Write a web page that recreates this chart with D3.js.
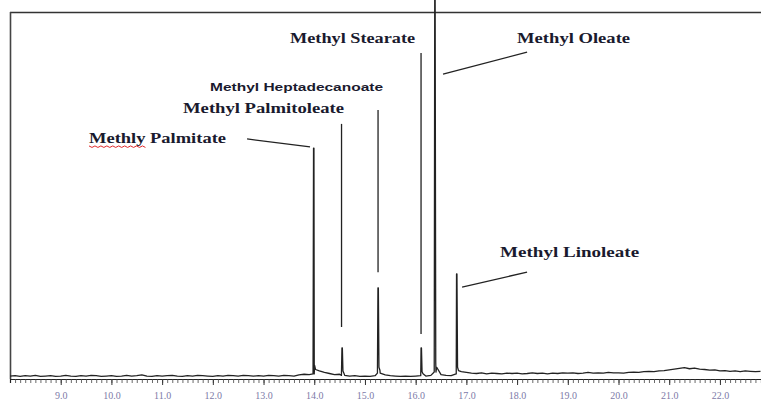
<!DOCTYPE html>
<html>
<head>
<meta charset="utf-8">
<script src="https://cdn.jsdelivr.net/npm/d3@7"></script>
<style>
  html, body { margin: 0; padding: 0; background: #fff; }
  svg { display: block; }
</style>
</head>
<body>
<svg id="chart" width="761" height="403"></svg>
<script>
// ---------- DATA ----------
const xTickValues = [9, 10, 11, 12, 13, 14, 15, 16, 17, 18, 19, 20, 21, 22];
const xTickLabels = ["9.0","10.0","11.0","12.0","13.0","14.0","15.0","16.0","17.0","18.0","19.0","20.0","21.0","22.0"];

// baseline signal, one reading every 0.1 min from 8.0 min
const baselineStart = 8.0;
const baselineStep = 0.1;
const baselineValues = [
  0.8,0.9,0.7,0.9,0.8,1.0,0.7,0.8,0.9,0.7,
  0.8,1.0,0.8,0.7,0.9,0.8,1.0,0.9,0.7,0.8,
  0.9,0.7,0.8,1.0,0.8,0.9,1.1,0.8,0.7,0.9,
  0.8,0.9,1.0,0.8,0.7,0.9,0.8,1.0,0.9,0.8,
  0.7,0.9,0.8,1.0,0.9,0.8,1.0,0.9,0.8,0.9,
  0.8,1.0,0.9,0.8,1.0,0.9,0.8,1.1,1.3,1.2,
  1.4,2.2,1.8,1.5,1.2,1.3,1.0,0.8,0.9,0.7,
  0.8,0.7,0.9,1.6,1.1,0.9,0.8,0.7,0.8,0.7,
  0.8,0.9,0.8,1.0,1.9,1.2,1.0,0.9,1.4,2.0,
  1.8,1.6,1.5,1.7,1.4,1.6,1.5,1.4,1.6,1.5,
  1.6,1.4,1.5,1.7,1.5,1.6,1.4,1.6,1.5,1.7,
  1.6,1.7,1.5,1.6,1.8,1.6,1.7,1.6,1.8,1.7,
  1.7,1.6,1.8,1.9,1.8,2.0,2.1,2.0,2.2,2.3,
  2.5,2.7,2.9,3.1,2.8,3.0,2.7,2.6,2.4,2.5,
  2.2,2.3,2.1,2.2,2.0,2.2,2.1,2.0,2.1
];

// peaks
const peakNames   = ["Methly Palmitate","Methyl Palmitoleate","Methyl Heptadecanoate","Methyl Stearate","Methyl Oleate","Methyl Linoleate"];
const peakTimes   = [13.99, 14.55, 15.26, 16.11, 16.38, 16.81];
const peakHeights = [63.1, 8.5, 24.9, 8.5, 104, 28.7];
const peakTails   = [2.4, 1.2, 1.6, 1.1, 2.6, 1.8];

// ---------- LAYOUT (annotation placement in data units) ----------
const labelLayout = [
  { t: 9.558,  v: 64.5, len: 137, font: "Liberation Serif", size: 14, weight: "bold",
    leader: [[12.675, 65.6], [13.917, 63.4]], squiggle: 6 },
  { t: 11.412, v: 72.7, len: 161, font: "Liberation Serif", size: 14, weight: "bold",
    leader: [[14.538, 69.7], [14.538, 14.2]] },
  { t: 11.945, v: 78.7, len: 173, font: "Liberation Sans", size: 11, weight: "bold",
    leader: [[15.258, 73.5], [15.258, 29.2]] },
  { t: 13.523, v: 91.8, len: 125, font: "Liberation Serif", size: 14, weight: "bold",
    leader: [[16.106, 89.1], [16.106, 12.3]] },
  { t: 18.0,   v: 91.8, len: 113, font: "Liberation Serif", size: 14, weight: "bold",
    leader: [[18.197, 89.3], [16.54, 83.3]] },
  { t: 17.665, v: 33.3, len: 139, font: "Liberation Serif", size: 14, weight: "bold",
    leader: [[18.197, 29.2], [16.915, 25.1]] }
];

// ---------- CHART ----------
const svg = d3.select("#chart");
const x = d3.scaleLinear().domain([8, 22.81]).range([10, 761]);
const y = d3.scaleLinear().domain([0, 100]).range([379, 13]);

// build trace: baseline + spikes
const pts = baselineValues.map((v, i) => ({ t: baselineStart + i * baselineStep, v }));
function baseAt(t) {
  const i = Math.max(0, Math.min(baselineValues.length - 1, Math.round((t - baselineStart) / baselineStep)));
  return baselineValues[i];
}
peakTimes.forEach((t, i) => {
  const b = baseAt(t);
  pts.push({ t: t - 0.014, v: b });
  pts.push({ t: t - 0.004, v: peakHeights[i] });
  pts.push({ t: t + 0.004, v: peakHeights[i] });
  pts.push({ t: t + 0.016, v: b + peakTails[i] });
  pts.push({ t: t + 0.035, v: b + peakTails[i] * 0.5 });
});
pts.sort((a, b) => a.t - b.t);

// frame (top + left)
svg.append("line").attr("x1", x(8)).attr("x2", 761).attr("y1", 12.5).attr("y2", 12.5)
  .attr("stroke", "#333").attr("stroke-width", 1.6);
svg.append("line").attr("x1", x(8) + 0.5).attr("x2", x(8) + 0.5).attr("y1", 12).attr("y2", y(0))
  .attr("stroke", "#444").attr("stroke-width", 1.6);

// x axis: minor ticks
const minorTicks = d3.range(81, 228).map(k => k / 10);
const gMinor = svg.append("g").attr("transform", `translate(0,${y(0)})`)
  .call(d3.axisBottom(x).tickValues(minorTicks).tickSize(4).tickFormat(""));
gMinor.select(".domain").attr("stroke", "#222").attr("stroke-width", 1.2);
gMinor.selectAll(".tick line").attr("stroke", "#444").attr("stroke-width", 0.8);

// major ticks with labels
const gMajor = svg.append("g").attr("transform", `translate(0,${y(0)})`)
  .call(d3.axisBottom(x).tickValues(xTickValues).tickSize(6)
    .tickFormat((d, i) => xTickLabels[i]).tickPadding(7));
gMajor.select(".domain").remove();
gMajor.selectAll(".tick line").attr("stroke", "#333").attr("stroke-width", 1);
gMajor.selectAll(".tick text")
  .attr("font-family", "Liberation Serif").attr("font-size", 10)
  .attr("fill", "#7d7aa8");

// trace
const line = d3.line().x(d => x(d.t)).y(d => y(d.v));
svg.append("path").datum(pts)
  .attr("d", line).attr("fill", "none")
  .attr("stroke", "#222").attr("stroke-width", 1.3).attr("stroke-linejoin", "round");

// annotations
labelLayout.forEach((L, i) => {
  const txt = svg.append("text")
    .attr("x", x(L.t)).attr("y", y(L.v))
    .attr("font-family", L.font).attr("font-size", L.size).attr("font-weight", L.weight)
    .attr("fill", "#1a1a2e")
    .attr("textLength", L.len).attr("lengthAdjust", "spacingAndGlyphs")
    .text(peakNames[i]);
  svg.append("line")
    .attr("x1", x(L.leader[0][0])).attr("y1", y(L.leader[0][1]))
    .attr("x2", x(L.leader[1][0])).attr("y2", y(L.leader[1][1]))
    .attr("stroke", "#222").attr("stroke-width", 1.3);
  if (L.squiggle) {
    const natural = txt.node().getSubStringLength(0, L.squiggle);
    const x0 = x(L.t), w = natural, yb = y(L.v) + 3;
    const n = Math.max(2, Math.round(w / 3));
    const sq = d3.range(n + 1).map(k => [x0 + k * w / n, yb + (k % 2 ? 1.5 : 0)]);
    svg.append("path").attr("d", d3.line()(sq)).attr("fill", "none")
      .attr("stroke", "#e0282a").attr("stroke-width", 1);
  }
});
</script>
</body>
</html>
